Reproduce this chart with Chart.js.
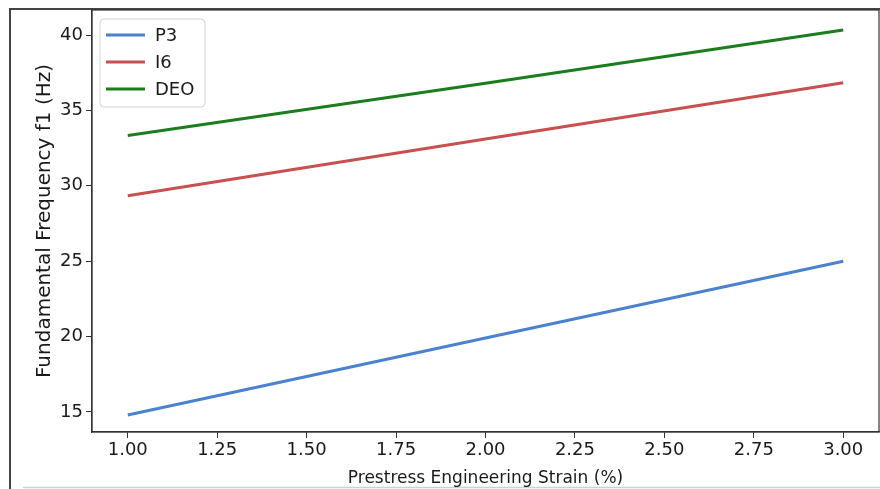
<!DOCTYPE html>
<html>
<head>
<meta charset="utf-8">
<script src="https://cdn.jsdelivr.net/npm/chart.js@4/dist/chart.umd.min.js"></script>
<style>
html,body{margin:0;padding:0;background:#fff;}
#wrap{width:880px;height:489px;position:relative;}
</style>
</head>
<body>
<div id="wrap"><canvas id="c" width="880" height="489"></canvas></div>
<script>
const strain = [1.0, 2.0, 3.0];
const p3 = [14.8, 19.9, 25.0];
const i6 = [29.34, 33.1, 36.84];
const deo = [33.34, 36.8, 40.33];
const seriesNames = ['P3', 'I6', 'DEO'];
const xTicks = [1.00, 1.25, 1.50, 1.75, 2.00, 2.25, 2.50, 2.75, 3.00];
const yTicks = [15, 20, 25, 30, 35, 40];
const xTitle = 'Prestress Engineering Strain (%)';
const yTitle = 'Fundamental Frequency f1 (Hz)';

const colors = ['#4a82cf', '#c8504e', '#1b7d1b'];
const FONT = 'DejaVu Sans';
const TXT = '#1a1a1a';

function pts(ys){ return strain.map((x,i)=>({x:x, y:ys[i]})); }

const decor = {
  id:'decor',
  beforeDraw(chart){
    const c = chart.ctx;
    c.save();
    c.fillStyle = '#fff';
    c.fillRect(0,0,chart.width,chart.height);
    c.strokeStyle = '#444';
    c.lineWidth = 2;
    c.beginPath();
    c.moveTo(10, 489); c.lineTo(10, 9); c.lineTo(880, 9);
    c.stroke();
    c.strokeStyle = '#d0d0d0';
    c.lineWidth = 1.5;
    c.beginPath();
    c.moveTo(23, 487.5); c.lineTo(880, 487.5);
    c.stroke();
    c.restore();
  },
  afterDatasetsDraw(chart){
    const c = chart.ctx, a = chart.chartArea;
    c.save();
    c.strokeStyle = '#333';
    c.lineWidth = 1.2;
    c.strokeRect(a.left, a.top, a.right - a.left, a.bottom - a.top);
    const bx = 100, by = 19, bw = 105, bh = 88, r = 4;
    c.fillStyle = 'rgba(255,255,255,0.85)';
    c.strokeStyle = '#d4d4d4';
    c.lineWidth = 1;
    c.beginPath();
    c.moveTo(bx+r,by); c.lineTo(bx+bw-r,by); c.arcTo(bx+bw,by,bx+bw,by+r,r);
    c.lineTo(bx+bw,by+bh-r); c.arcTo(bx+bw,by+bh,bx+bw-r,by+bh,r);
    c.lineTo(bx+r,by+bh); c.arcTo(bx,by+bh,bx,by+bh-r,r);
    c.lineTo(bx,by+r); c.arcTo(bx,by,bx+r,by,r);
    c.closePath(); c.fill(); c.stroke();
    c.font = '18px "' + FONT + '"';
    c.textBaseline = 'middle';
    chart.data.datasets.forEach((ds, i) => {
      const y = 35 + i * 27;
      c.strokeStyle = ds.borderColor;
      c.lineWidth = 3;
      c.beginPath(); c.moveTo(106, y); c.lineTo(145, y); c.stroke();
      c.fillStyle = TXT;
      c.fillText(ds.label, 155, y + 1);
    });
    c.restore();
  }
};

new Chart(document.getElementById('c'), {
  type: 'line',
  data: {
    datasets: [
      {label: seriesNames[0], data: pts(p3), borderColor: colors[0]},
      {label: seriesNames[1], data: pts(i6), borderColor: colors[1]},
      {label: seriesNames[2], data: pts(deo), borderColor: colors[2]}
    ].map(d => Object.assign(d, {borderWidth: 3, pointRadius: 0, fill: false, tension: 0}))
  },
  options: {
    responsive: false,
    animation: false,
    layout: {padding: {top: 10, right: 1, left: 0, bottom: 0}},
    plugins: {legend: {display: false}, tooltip: {enabled: false}},
    scales: {
      x: {
        type: 'linear', min: 0.9, max: 3.1,
        afterBuildTicks(s){ s.ticks = xTicks.map(v => ({value: v})); },
        afterFit(s){ s.height = 57; s.paddingLeft = 0; s.paddingRight = 0; },
        grid: {drawOnChartArea: false, drawTicks: true, tickLength: 6, color: '#333', lineWidth: 1},
        border: {display: true, color: '#333', width: 1.2},
        ticks: {color: TXT, font: {family: FONT, size: 18}, padding: 2, maxRotation: 0,
          callback: v => Number(v).toFixed(2)},
        title: {display: true, text: xTitle, color: TXT, font: {family: FONT, size: 17}, padding: {top: 1, bottom: 0}}
      },
      y: {
        type: 'linear', min: 13.67, max: 41.66,
        afterBuildTicks(s){ s.ticks = yTicks.map(v => ({value: v})); },
        afterFit(s){ s.width = 92; s.paddingTop = 0; s.paddingBottom = 0; },
        grid: {drawOnChartArea: false, drawTicks: true, tickLength: 6, color: '#333', lineWidth: 1},
        border: {display: true, color: '#333', width: 1.2},
        ticks: {color: TXT, font: {family: FONT, size: 18}, padding: 3,
          callback: v => String(v)},
        title: {display: true, text: yTitle, color: TXT, font: {family: FONT, size: 20}, padding: {top: 33, bottom: 0}}
      }
    }
  },
  plugins: [decor]
});
</script>
</body>
</html>
